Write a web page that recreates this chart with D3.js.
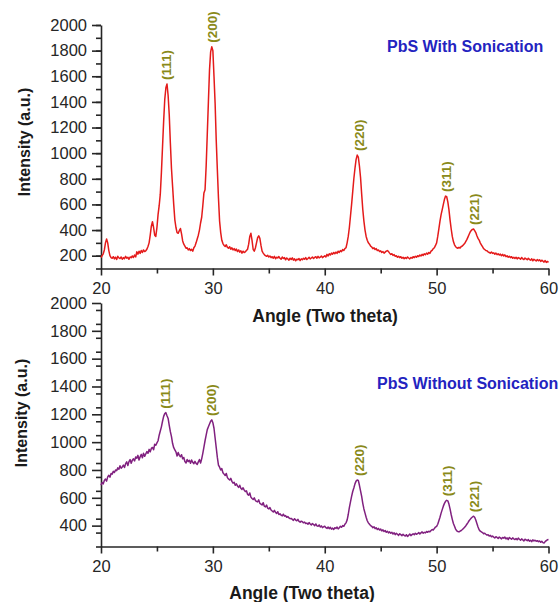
<!DOCTYPE html>
<html>
<head>
<meta charset="utf-8">
<script src="https://cdn.jsdelivr.net/npm/d3@7"></script>
<style>
	body { margin: 0; background: #fff; }
	svg { display: block; font-family: "Liberation Sans", Arial, sans-serif; }
	.axis path, .axis line { stroke: #262626; stroke-width: 1.6; }
	.axis text { font-size: 16.5px; fill: #262626; }
</style>
</head>
<body>
<svg id="xrd"></svg>
<script>
// scan grid: 20 -> 60 deg, step 0.1 (one row = one degree)
const angleStart = 20, angleStep = 0.1;

const withSonication = [
	185,200,215,245,300,330,300,240,200,185,
	180,192,175,188,170,195,183,178,190,172,
	185,176,195,180,188,172,190,184,198,186,
	205,190,230,212,235,218,240,225,245,232,
	238,250,272,300,360,430,465,420,360,350,
	420,520,590,680,850,1050,1250,1420,1510,1540,
	1450,1300,1080,880,740,600,480,420,380,375,
	395,412,370,315,290,275,258,262,245,255,
	240,250,235,262,275,300,330,360,400,455,
	500,590,690,715,900,1150,1400,1650,1790,1830,
	1800,1600,1390,1100,870,650,470,380,320,295,
	280,272,285,265,258,270,250,262,245,255,
	240,252,232,245,228,238,220,235,225,230,
	240,250,290,350,375,320,250,235,260,300,
	340,355,335,280,235,220,208,200,195,203,
	190,198,185,192,180,195,176,188,182,193,
	180,172,190,178,185,168,182,175,165,180,
	170,183,165,176,160,172,168,178,162,175,
	168,180,172,185,170,178,188,175,182,190,
	178,186,192,180,195,183,188,198,185,192,
	200,190,210,198,215,205,220,212,225,215,
	228,218,235,225,240,232,248,240,255,262,
	300,350,420,510,600,700,800,880,950,985,
	970,900,810,680,560,470,400,350,320,300,
	290,275,268,255,262,248,255,240,245,232,
	238,225,232,220,228,235,240,232,220,210,
	215,202,208,195,200,188,196,185,192,180,
	188,176,185,178,190,182,175,186,180,192,
	185,195,188,200,193,205,198,210,202,215,
	208,220,212,225,218,235,242,255,262,280,
	300,350,410,470,520,560,600,640,665,660,
	620,560,480,410,350,310,285,270,262,258,
	265,260,272,275,285,295,310,325,345,365,
	385,398,405,408,395,380,355,335,322,300,
	285,270,255,248,240,238,230,225,220,228,
	218,222,212,220,208,215,205,212,200,210,
	198,206,192,200,188,196,185,192,180,188,
	178,188,175,185,180,172,186,176,170,182,
	175,168,180,170,165,176,160,172,166,158,
	170,160,168,155,165,158,150,162,148,155,
	148
];

const withoutSonication = [
	690,710,700,725,735,720,750,762,748,775,
	770,790,782,800,795,815,805,830,812,822,
	835,818,845,858,832,860,875,848,870,880,
	865,894,885,905,872,895,912,888,920,898,
	915,932,920,948,930,955,962,945,985,978,
	995,1010,1050,1080,1110,1150,1185,1205,1212,1190,
	1170,1120,1075,1040,990,960,945,930,900,925,
	905,895,910,880,890,860,850,875,860,870,
	848,872,855,845,862,847,840,858,875,850,
	880,920,965,1010,1050,1090,1110,1130,1150,1160,
	1140,1100,1030,960,890,835,820,800,810,780,
	770,760,775,745,735,728,740,718,705,712,
	690,700,685,675,690,668,660,672,655,645,
	650,625,618,635,605,595,588,600,580,575,
	570,585,560,555,548,565,540,535,548,525,
	520,530,512,505,498,510,495,488,500,480,
	485,475,470,482,468,472,460,465,455,450,
	452,445,438,450,440,435,445,430,425,432,
	428,420,425,415,418,410,422,412,405,415,
	408,400,412,398,395,405,390,398,385,392,
	395,385,380,390,378,388,375,382,372,385,
	380,390,376,385,395,388,400,395,410,420,
	440,480,530,570,610,645,670,700,720,728,
	725,690,650,610,560,520,490,460,435,420,
	410,400,395,385,392,378,385,372,380,368,
	375,362,370,358,365,352,360,348,355,345,
	352,340,348,335,345,338,330,342,335,328,
	338,330,325,335,322,330,340,328,335,342,
	335,345,338,342,350,340,348,355,345,352,
	348,358,352,360,355,365,372,368,380,390,
	395,410,435,460,490,515,540,560,575,582,
	578,555,520,480,445,415,395,375,362,358,
	355,360,365,372,380,388,398,410,422,435,
	445,455,462,468,460,440,415,390,370,360,
	355,350,342,345,338,332,335,325,330,320,
	325,318,312,320,315,308,318,312,305,315,
	310,318,305,312,300,315,308,302,312,305,
	300,308,298,310,302,295,305,298,290,302,
	298,292,300,288,295,285,298,290,295,288,
	292,285,290,280,288,278,275,285,292,298,
	300
];

const peakNames = ["(111)", "(200)", "(220)", "(311)", "(221)"];
const peakAnglesWith = [25.85, 29.95, 43.1, 50.85, 53.35];
const peakTopsWith = [1540, 1830, 985, 665, 408];
const peakAnglesWithout = [25.8, 29.9, 43.1, 51.0, 53.4];
const peakTopsWithout = [1212, 1160, 728, 582, 468];

const angleTicks = [20, 30, 40, 50, 60];
const angleMinorTicks = [25, 35, 45, 55];
const intensityTicksTop = [200, 400, 600, 800, 1000, 1200, 1400, 1600, 1800, 2000];
const intensityTicksBottom = [400, 600, 800, 1000, 1200, 1400, 1600, 1800, 2000];

const xTitle = "Angle (Two theta)";
const yTitle = "Intensity (a.u.)";

class XrdPanel {
	constructor(svg, cfg) {
		this.cfg = cfg;
		this.g = svg.append("g").attr("class", "panel");

		this.xScale = d3.scaleLinear().domain([20, 60]).range([101, 548.5]);
		this.yScale = d3.scaleLinear().domain(cfg.yDomain).range([cfg.bottom, cfg.top]);
	}

	drawAxis() {
		var c = this.cfg;

		// minor ticks first, no labels
		this.g.append("g")
			.attr("class", "axis")
			.attr("transform", "translate(0," + c.bottom + ")")
			.call(d3.axisBottom(this.xScale).tickValues(angleMinorTicks).tickSize(5).tickFormat(""))
			.call(function(g) { g.select(".domain").remove(); });
		this.g.append("g")
			.attr("class", "axis")
			.attr("transform", "translate(101,0)")
			.call(d3.axisLeft(this.yScale).tickValues(d3.range(c.yDomain[0], 2001, 100)).tickSize(5).tickFormat(""))
			.call(function(g) { g.select(".domain").remove(); });

		this.g.append("g")
			.attr("class", "axis")
			.attr("transform", "translate(0," + c.bottom + ")")
			.call(d3.axisBottom(this.xScale).tickValues(angleTicks).tickSizeInner(7).tickSizeOuter(0).tickPadding(7));
		this.g.append("g")
			.attr("class", "axis")
			.attr("transform", "translate(101,0)")
			.call(d3.axisLeft(this.yScale).tickValues(c.yTicks).tickFormat(d3.format("d"))
				.tickSizeInner(9).tickSizeOuter(0).tickPadding(5));

		this.g.append("text")
			.attr("transform", "translate(" + c.yTitleX + "," + c.yTitleY + ") rotate(-90)")
			.attr("text-anchor", "middle")
			.attr("dominant-baseline", "central")
			.style("font-size", "16px")
			.style("font-weight", "bold")
			.attr("fill", "#1a1a1a")
			.text(yTitle);
		this.g.append("text")
			.attr("x", c.xTitleX)
			.attr("y", c.xTitleY)
			.attr("text-anchor", "middle")
			.attr("dominant-baseline", "central")
			.style("font-size", "17.5px")
			.style("font-weight", "bold")
			.attr("fill", "#1a1a1a")
			.text(xTitle);
	}

	drawPattern() {
		var line = d3.line()
			.x(function(d, i) { return this.xScale(angleStart + i * angleStep); }.bind(this))
			.y(function(d) { return this.yScale(d); }.bind(this));

		this.g.append("path")
			.datum(this.cfg.values)
			.attr("d", line)
			.attr("fill", "none")
			.attr("stroke", this.cfg.color)
			.attr("stroke-width", 1.5)
			.attr("stroke-linejoin", "round");

		var c = this.cfg;
		this.g.selectAll(".peakLabel")
			.data(peakNames)
			.enter()
			.append("text")
			.attr("class", "peakLabel")
			.attr("transform", function(d, i) {
				return "translate(" + this.xScale(c.peakAngles[i]) + "," + (this.yScale(c.peakTops[i]) - c.labelGap) + ") rotate(-90)";
			}.bind(this))
			.attr("dominant-baseline", "central")
			.style("font-size", "13.5px")
			.style("font-weight", "600")
			.attr("fill", "#8a8a1a")
			.text(function(d) { return d; });

		this.g.append("text")
			.attr("x", c.titleX)
			.attr("y", c.titleY)
			.attr("dominant-baseline", "central")
			.style("font-size", "16px")
			.style("font-weight", "bold")
			.attr("fill", "#2323c0")
			.text(c.title);
	}
}

var svg = d3.select("#xrd").attr("width", 560).attr("height", 602);

var topPanel = new XrdPanel(svg, {
	top: 25, bottom: 268.5, yDomain: [100, 2000], yTicks: intensityTicksTop,
	values: withSonication, color: "#e41b1b",
	peakAngles: peakAnglesWith, peakTops: peakTopsWith, labelGap: 4,
	title: "PbS With Sonication", titleX: 387, titleY: 46,
	yTitleX: 24, yTitleY: 142, xTitleX: 325, xTitleY: 316
});
topPanel.drawAxis();
topPanel.drawPattern();

var bottomPanel = new XrdPanel(svg, {
	top: 303, bottom: 546.5, yDomain: [250, 2000], yTicks: intensityTicksBottom,
	values: withoutSonication, color: "#80207f",
	peakAngles: peakAnglesWithout, peakTops: peakTopsWithout, labelGap: 4,
	title: "PbS Without Sonication", titleX: 377, titleY: 383,
	yTitleX: 21, yTitleY: 413, xTitleX: 302, xTitleY: 593
});
bottomPanel.drawAxis();
bottomPanel.drawPattern();
</script>
</body>
</html>
